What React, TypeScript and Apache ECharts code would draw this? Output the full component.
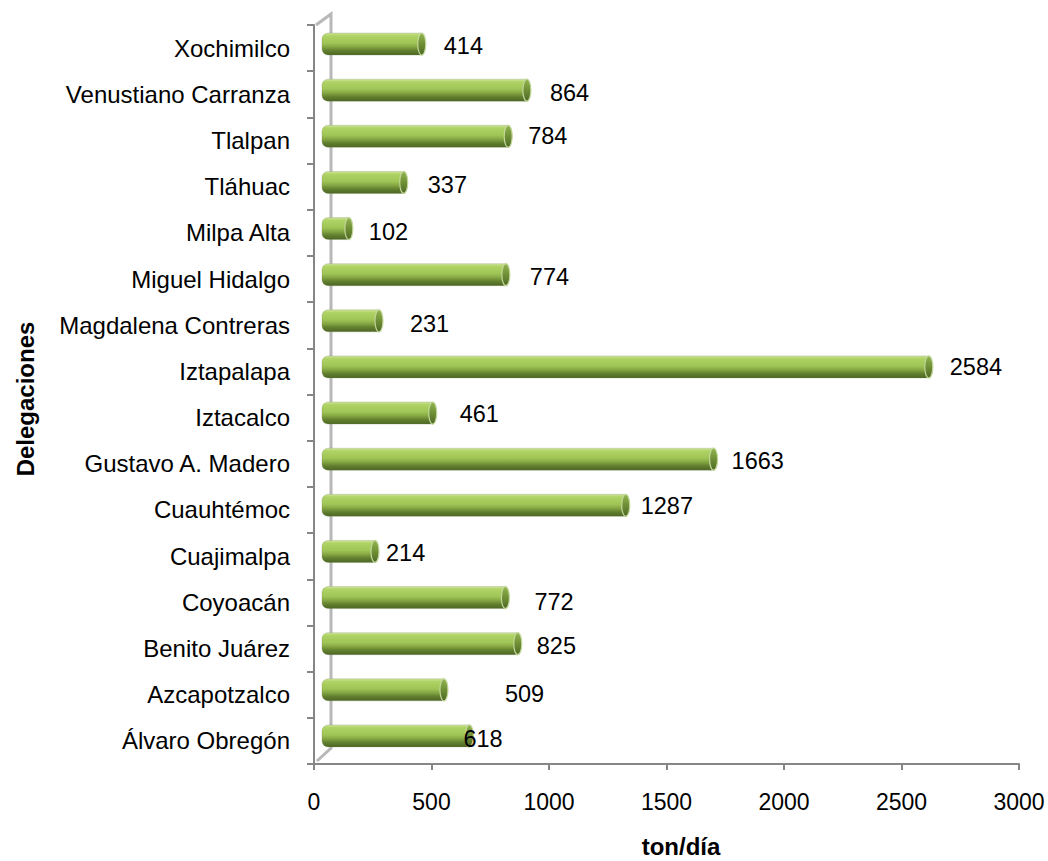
import React, { useEffect, useRef } from "react";
import * as echarts from "echarts";

const categories = [
  "Álvaro Obregón",
  "Azcapotzalco",
  "Benito Juárez",
  "Coyoacán",
  "Cuajimalpa",
  "Cuauhtémoc",
  "Gustavo A. Madero",
  "Iztacalco",
  "Iztapalapa",
  "Magdalena Contreras",
  "Miguel Hidalgo",
  "Milpa Alta",
  "Tláhuac",
  "Tlalpan",
  "Venustiano Carranza",
  "Xochimilco",
];
const values = [618, 509, 825, 772, 214, 1287, 1663, 461, 2584, 231, 774, 102, 337, 784, 864, 414];

const xMin = 0;
const xMax = 3000;
const xInterval = 500;

// label nudges (px) copying the irregular placement of the original
const labelGap = [-10, 57, 15, 25, 7, 11, 14, 23, 17, 27, 20, 16, 20, 16, 19, 18];
const labelDy = [3, 4, 2.5, 4.5, 2, 0.5, 2, 1, 0.5, 3, 2.5, 3, 2.5, -0.5, 3, 2];

const FONT = "'Liberation Sans', Arial, Helvetica, sans-serif";
const AXIS_COLOR = "#868686";

export default function App() {
  const ref = useRef<HTMLDivElement>(null);

  useEffect(() => {
    if (!ref.current) return;
    const chart = echarts.init(ref.current, undefined, { renderer: "svg" });

    const bodyGrad = () =>
      new echarts.graphic.LinearGradient(0, 0, 0, 1, [
        { offset: 0, color: "#d2e6a0" },
        { offset: 0.12, color: "#afd364" },
        { offset: 0.45, color: "#a0c557" },
        { offset: 0.62, color: "#87a844" },
        { offset: 0.8, color: "#62802f" },
        { offset: 1, color: "#4d6624" },
      ]);
    const capGrad = () =>
      new echarts.graphic.LinearGradient(0, 0, 0, 1, [
        { offset: 0, color: "#93b550" },
        { offset: 0.5, color: "#6f8f35" },
        { offset: 1, color: "#4e6826" },
      ]);

    const option: any = {
      animation: false,
      backgroundColor: "#ffffff",
      grid: [
        { left: 314, right: 29, top: 25, bottom: 97, containLabel: false },
        { left: 329, right: 18, top: 21, bottom: 102, containLabel: false },
      ],
      xAxis: [
        {
          gridIndex: 0,
          type: "value",
          min: xMin,
          max: xMax,
          interval: xInterval,
          axisLine: { show: true, lineStyle: { color: AXIS_COLOR, width: 2 } },
          axisTick: { show: true, length: 6, lineStyle: { color: AXIS_COLOR, width: 2 } },
          axisLabel: {
            color: "#000",
            fontSize: 23,
            fontFamily: FONT,
            margin: 26,
            formatter: (v: number) => String(v),
          },
          splitLine: { show: false },
        },
        { gridIndex: 1, type: "value", min: xMin, max: xMax, show: false },
      ],
      yAxis: [
        {
          gridIndex: 0,
          type: "category",
          data: categories,
          axisLine: { show: true, lineStyle: { color: AXIS_COLOR, width: 2 } },
          axisTick: { show: true, length: 7, lineStyle: { color: AXIS_COLOR, width: 2 } },
          axisLabel: { color: "#000", fontSize: 24, fontFamily: FONT, margin: 24 },
          splitLine: { show: false },
        },
        { gridIndex: 1, type: "category", data: categories, show: false },
      ],
      graphic: [
        {
          type: "polyline",
          z: 0,
          silent: true,
          shape: { points: [[316, 25], [331, 14], [331, 748], [317, 761]] },
          style: { stroke: "#b8b8b8", lineWidth: 3, fill: "none" },
        },
        {
          type: "text",
          x: 25,
          y: 399,
          rotation: Math.PI / 2,
          style: {
            text: "Delegaciones",
            fontSize: 24,
            fontWeight: "bold",
            fontFamily: FONT,
            fill: "#000",
            align: "center",
            verticalAlign: "middle",
          },
        },
        {
          type: "text",
          x: 681,
          y: 846,
          style: {
            text: "ton/día",
            fontSize: 24,
            fontWeight: "bold",
            fontFamily: FONT,
            fill: "#000",
            align: "center",
            verticalAlign: "middle",
          },
        },
      ],
      series: [
        {
          type: "custom",
          xAxisIndex: 1,
          yAxisIndex: 1,
          z: 5,
          data: values.map((v, i) => [v, i]),
          encode: { x: 0, y: 1 },
          renderItem: (params: any, api: any) => {
            const v = api.value(0);
            const idx = api.value(1);
            const end = api.coord([v, idx]);
            const start = api.coord([0, idx]);
            const x1 = end[0];
            const yc = end[1];
            const h = 22;
            const left = start[0] - 7;
            const capRx = 4;
            return {
              type: "group",
              children: [
                {
                  type: "rect",
                  shape: { x: left, y: yc - h / 2, width: x1 - capRx - left, height: h, r: [6, 0, 0, 6] },
                  style: { fill: bodyGrad(), stroke: "rgba(120,140,90,0.35)", lineWidth: 0.8 },
                },
                {
                  type: "ellipse",
                  shape: { cx: x1 - capRx, cy: yc, rx: capRx, ry: h / 2 },
                  style: { fill: capGrad(), stroke: "#c2d79a", lineWidth: 1.2 },
                },
                {
                  type: "text",
                  x: x1 + labelGap[idx],
                  y: yc + labelDy[idx],
                  style: {
                    text: String(v),
                    fontSize: 23.5,
                    fontFamily: FONT,
                    fill: "#000",
                    align: "left",
                    verticalAlign: "middle",
                  },
                },
              ],
            };
          },
        },
      ],
    };

    chart.setOption(option);
    return () => chart.dispose();
  }, []);

  return (
    <div
      ref={ref}
      style={{ position: "fixed", left: 0, top: 0, width: 1048, height: 861, background: "#fff" }}
    />
  );
}
